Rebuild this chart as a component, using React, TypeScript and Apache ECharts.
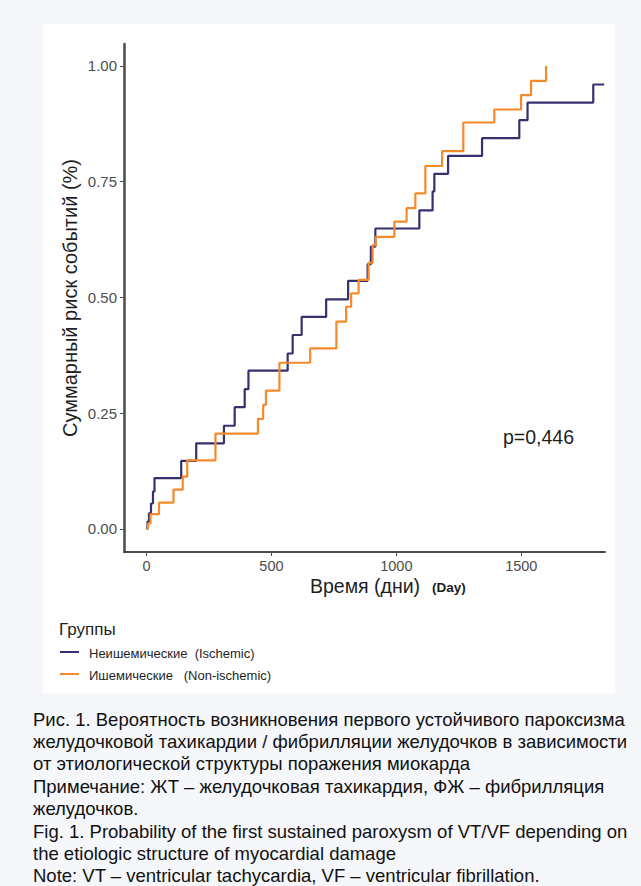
import React, { useEffect, useRef } from "react";
import * as echarts from "echarts";

const blueDays = [0, 4, 10, 18, 26, 32, 139, 199, 310, 353, 393, 408, 565, 585, 621, 719, 807, 885, 898, 916, 1092, 1145, 1152, 1207, 1343, 1492, 1525, 1788, 1832];
const blueRisk = [0, 0.016, 0.034, 0.055, 0.081, 0.11, 0.147, 0.185, 0.223, 0.263, 0.302, 0.342, 0.379, 0.419, 0.458, 0.496, 0.536, 0.572, 0.61, 0.649, 0.688, 0.729, 0.767, 0.806, 0.844, 0.883, 0.921, 0.96, 0.96];

const orangeDays = [0, 6, 16, 50, 108, 145, 163, 276, 446, 467, 478, 532, 655, 760, 799, 819, 849, 889, 905, 918, 992, 1041, 1076, 1116, 1183, 1268, 1392, 1499, 1539, 1599];
const orangeRisk = [0, 0.012, 0.032, 0.057, 0.085, 0.113, 0.148, 0.206, 0.238, 0.268, 0.299, 0.359, 0.39, 0.448, 0.48, 0.509, 0.538, 0.575, 0.613, 0.631, 0.664, 0.693, 0.725, 0.784, 0.816, 0.878, 0.906, 0.937, 0.968, 1.0];

const xTicks = [0, 500, 1000, 1500];
const yTicks = [0, 0.25, 0.5, 0.75, 1.0];

const seriesNames = ["Неишемические  (Ischemic)", "Ишемические   (Non-ischemic)"];
const legendTitle = "Группы";
const yTitle = "Суммарный риск событий (%)";
const xTitle = "Время (дни)";
const xTitleEn = "(Day)";
const pText = "p=0,446";

const captionLines = [
  "Рис. 1. Вероятность возникновения первого устойчивого пароксизма",
  "желудочковой тахикардии / фибрилляции желудочков в зависимости",
  "от этиологической структуры поражения миокарда",
  "Примечание: ЖТ – желудочковая тахикардия, ФЖ – фибрилляция",
  "желудочков.",
  "Fig. 1. Probability of the first sustained paroxysm of VT/VF depending on",
  "the etiologic structure of myocardial damage",
  "Note: VT – ventricular tachycardia, VF – ventricular fibrillation.",
];

const BLUE = "#35316f";
const ORANGE = "#f58a2a";
const FONT = "'Liberation Sans', Arial, sans-serif";

export default function App() {
  const ref = useRef<HTMLDivElement>(null);
  useEffect(() => {
    if (!ref.current) return;
    const chart = echarts.init(ref.current, null, { renderer: "svg" });
    const blueData = blueDays.map((d, i) => [d, blueRisk[i]]);
    const orangeData = orangeDays.map((d, i) => [d, orangeRisk[i]]);

    const graphics: any[] = [
      { type: "rect", z: -10, silent: true, shape: { x: 43, y: 24, width: 572, height: 669 }, style: { fill: "#ffffff" } },
      { type: "text", x: 70, y: 298, rotation: Math.PI / 2, style: { text: yTitle, font: `20px ${FONT}`, fill: "#1e1e1e", align: "center", verticalAlign: "middle" } },
      { type: "text", x: 365, y: 586, style: { text: xTitle, font: `19.5px ${FONT}`, fill: "#1e1e1e", align: "center", verticalAlign: "middle" } },
      { type: "text", x: 432, y: 587, style: { text: xTitleEn, font: `bold 13.5px ${FONT}`, fill: "#1e1e1e", align: "left", verticalAlign: "middle" } },
      { type: "text", x: 503, y: 437, style: { text: pText, font: `19.5px ${FONT}`, fill: "#1e1e1e", align: "left", verticalAlign: "middle" } },
      { type: "text", x: 59, y: 629, style: { text: legendTitle, font: `17px ${FONT}`, fill: "#1e1e1e", align: "left", verticalAlign: "middle" } },
      { type: "line", shape: { x1: 60, y1: 652, x2: 79, y2: 652 }, style: { stroke: BLUE, lineWidth: 2 } },
      { type: "line", shape: { x1: 60, y1: 674, x2: 79, y2: 674 }, style: { stroke: ORANGE, lineWidth: 2 } },
      { type: "text", x: 89, y: 653, style: { text: seriesNames[0], font: `13px ${FONT}`, fill: "#1e1e1e", align: "left", verticalAlign: "middle" } },
      { type: "text", x: 89, y: 675, style: { text: seriesNames[1], font: `13px ${FONT}`, fill: "#1e1e1e", align: "left", verticalAlign: "middle" } },
    ];
    captionLines.forEach((t, i) => {
      graphics.push({ type: "text", x: 33, y: 719 + i * 22.4, style: { text: t, font: `18.5px ${FONT}`, fill: "#111111", align: "left", verticalAlign: "middle" } });
    });

    chart.setOption({
      animation: false,
      backgroundColor: "#f5f7fb",
      grid: { left: 124, right: 36, top: 44, bottom: 334, containLabel: false },
      xAxis: {
        type: "value",
        min: -90,
        max: 1835,
        splitLine: { show: false },
        axisLine: { show: true, onZero: false, lineStyle: { color: "#4a4a4a", width: 2 } },
        axisTick: { show: true, customValues: xTicks, length: 4, lineStyle: { color: "#4a4a4a", width: 1 } },
        axisLabel: { customValues: xTicks, margin: 6, color: "#4d4d4d", fontSize: 14.5, fontFamily: FONT, formatter: (v: number) => String(v) },
      },
      yAxis: {
        type: "value",
        min: -0.0497,
        max: 1.0475,
        splitLine: { show: false },
        axisLine: { show: true, onZero: false, lineStyle: { color: "#4a4a4a", width: 2.5 } },
        axisTick: { show: true, customValues: yTicks, length: 4, lineStyle: { color: "#4a4a4a", width: 1 } },
        axisLabel: { customValues: yTicks, margin: 7, color: "#4d4d4d", fontSize: 15, fontFamily: FONT, formatter: (v: number) => v.toFixed(2) },
      },
      graphic: graphics,
      series: [
        { name: seriesNames[0], type: "line", step: "end", data: blueData, showSymbol: false, lineStyle: { color: BLUE, width: 2.2 }, itemStyle: { color: BLUE } },
        { name: seriesNames[1], type: "line", step: "end", data: orangeData, showSymbol: false, lineStyle: { color: ORANGE, width: 2.2 }, itemStyle: { color: ORANGE } },
      ],
    });
    return () => chart.dispose();
  }, []);
  return <div ref={ref} style={{ position: "absolute", left: 0, top: 0, width: 641, height: 886 }} />;
}
